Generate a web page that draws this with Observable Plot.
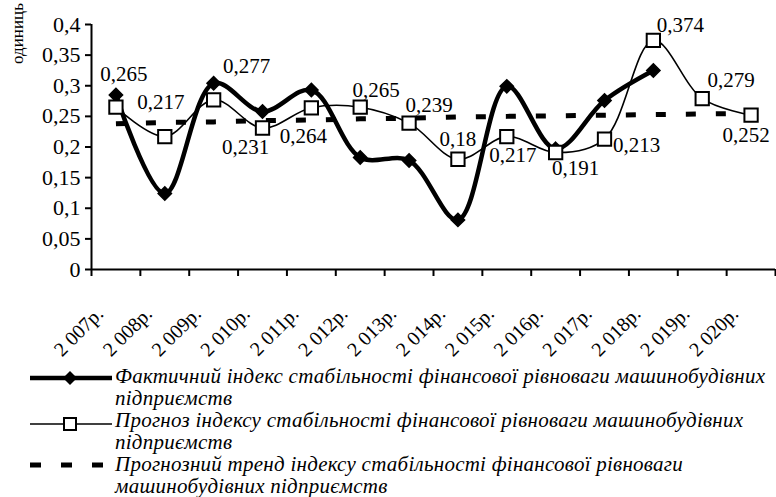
<!DOCTYPE html>
<html><head><meta charset="utf-8">
<script src="https://cdn.jsdelivr.net/npm/d3@7"></script>
<script src="https://cdn.jsdelivr.net/npm/@observablehq/plot@0.6"></script>
</head><body style="margin:0;width:776px;height:497px;overflow:hidden;background:#fff;position:relative;color:#000;font-family:'Liberation Serif'">
<div id="chart" style="position:absolute;left:0;top:0;"></div>
<div id="legend"></div>
<script>
// ---- data ----
const years = ["2 007р.","2 008р.","2 009р.","2 010р.","2 011р.","2 012р.","2 013р.","2 014р.","2 015р.","2 016р.","2 017р.","2 018р.","2 019р.","2 020р."];
const actual = [0.285, 0.124, 0.304, 0.258, 0.293, 0.183, 0.178, 0.081, 0.299, 0.197, 0.276, 0.325];
const forecast = [0.265, 0.217, 0.277, 0.231, 0.264, 0.265, 0.239, 0.18, 0.217, 0.191, 0.213, 0.374, 0.279, 0.252];
const trend = [0.238, 0.240, 0.241, 0.243, 0.244, 0.246, 0.247, 0.249, 0.250, 0.251, 0.252, 0.253, 0.254, 0.255];
const yTicks = [0, 0.05, 0.1, 0.15, 0.2, 0.25, 0.3, 0.35, 0.4];
const yTitle = "одиниць";
const legendLabels = [
  ["Фактичний індекс стабільності фінансової рівноваги машинобудівних", "підприємств"],
  ["Прогноз індексу стабільності фінансової рівноваги машинобудівних", "підприємств"],
  ["Прогнозний тренд індексу стабільності фінансової рівноваги", "машинобудівних підприємств"]
];
// label placement (style)
const labelOffsets = [[8,-33],[-4,-34],[33,-34],[-17,19],[-8,28],[16,-17],[20,-18],[0,-20],[6,19],[20,16],[32,6],[27,-15],[29,-18],[-5,20]];

const fmt = v => String(v).replace(".", ",");
const idx = a => a.map((v, i) => ({i: i + 0.5, v}));
const actualD = idx(actual), forecastD = idx(forecast), trendD = idx(trend);
const FONT = "Liberation Serif";

const chart = Plot.plot({
  width: 776, height: 360,
  marginLeft: 91, marginRight: 1, marginTop: 24, marginBottom: 91,
  style: {fontFamily: FONT, fontSize: "20px", color: "#000", background: "transparent"},
  x: {domain: [0, 14], axis: null},
  y: {domain: [0, 0.4], axis: null},
  marks: [
    Plot.axisY({ticks: yTicks, tickFormat: fmt, tickSize: 6, tickPadding: 5, fontSize: 22, strokeWidth: 2, label: null}),
    Plot.axisX({ticks: d3.range(15), tickFormat: () => "", tickSize: 7, strokeWidth: 2, label: null}),
    Plot.ruleX([0], {stroke: "#000", strokeWidth: 2}),
    Plot.ruleY([0], {stroke: "#000", strokeWidth: 2}),
    Plot.text(years, {x: (d, i) => i + 0.5, y: () => 0, text: d => d, rotate: -45, textAnchor: "end", dx: -16, dy: 41, fontSize: 20}),
    Plot.text([yTitle], {frameAnchor: "top-left", rotate: -90, textAnchor: "middle", dx: -81, dy: 9, fontSize: 17}),
    Plot.line(trendD, {x: "i", y: "v", stroke: "#000", strokeWidth: 5, strokeDasharray: "10,20", strokeLinecap: "butt"}),
    Plot.line(forecastD, {x: "i", y: "v", stroke: "#000", strokeWidth: 1.6, curve: "catmull-rom"}),
    Plot.line(actualD, {x: "i", y: "v", stroke: "#000", strokeWidth: 4.5, curve: "catmull-rom"}),
    Plot.dot(actualD, {x: "i", y: "v", symbol: "diamond2", r: 6, fill: "#000", stroke: "#000"}),
    Plot.dot(forecastD, {x: "i", y: "v", symbol: "square", r: 7.5, fill: "#fff", stroke: "#000", strokeWidth: 2}),
    ...labelOffsets.map(([dx, dy], k) => Plot.text([forecastD[k]], {x: "i", y: "v", text: d => fmt(d.v), dx, dy, fontSize: 21}))
  ]
});
chart.style.fontFamily = FONT;
chart.querySelectorAll("text, g").forEach(t => { t.style.fontFamily = FONT; });
document.getElementById("chart").appendChild(chart);

// ---- legend (HTML) ----
const symbols = [
  `<svg width="82" height="24"><line x1="0" y1="12" x2="82" y2="12" stroke="#000" stroke-width="4.5"/><path d="M40,5 L47,12 L40,19 L33,12 Z" fill="#000"/></svg>`,
  `<svg width="82" height="24"><line x1="0" y1="14" x2="82" y2="14" stroke="#000" stroke-width="1.6"/><rect x="34" y="8" width="12" height="12" fill="#fff" stroke="#000" stroke-width="2"/></svg>`,
  `<svg width="82" height="24"><line x1="0" y1="11" x2="82" y2="11" stroke="#000" stroke-width="5" stroke-dasharray="11,20"/></svg>`
];
const tops = [366, 410, 454];
const legend = document.getElementById("legend");
legendLabels.forEach((lines, k) => {
  const row = document.createElement("div");
  row.style.cssText = `position:absolute;left:0;top:${tops[k]}px;width:776px;height:44px;`;
  const sym = document.createElement("div");
  sym.style.cssText = "position:absolute;left:30px;top:0;";
  sym.innerHTML = symbols[k];
  const txt = document.createElement("div");
  txt.style.cssText = "position:absolute;left:115px;top:-1px;font-style:italic;font-size:21px;line-height:22px;letter-spacing:0.25px;white-space:nowrap;";
  txt.style.fontFamily = FONT;
  txt.innerHTML = lines.join("<br>");
  row.appendChild(sym); row.appendChild(txt);
  legend.appendChild(row);
});
</script>
</body></html>
